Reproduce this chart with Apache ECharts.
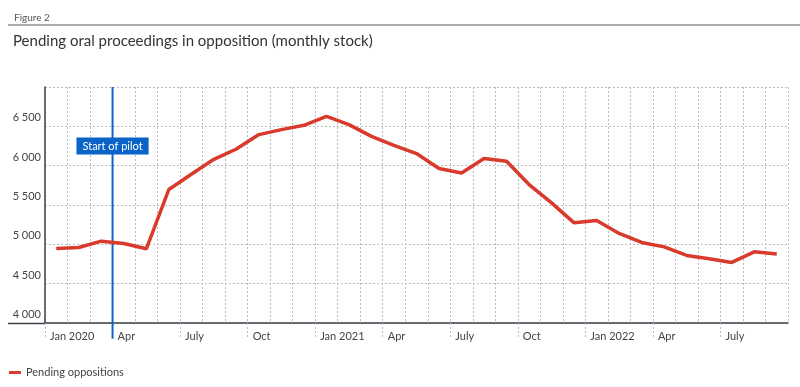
<!DOCTYPE html>
<html>
<head>
<meta charset="utf-8">
<script src="https://cdn.jsdelivr.net/npm/echarts@6/dist/echarts.min.js"></script>
<style>html,body{margin:0;padding:0;background:#fff}#c{width:800px;height:387px}</style>
</head>
<body>
<div id="c"></div>
<script>
// months Jan 2020 .. Sep 2022
const months = ['2020-01','2020-02','2020-03','2020-04','2020-05','2020-06','2020-07','2020-08','2020-09','2020-10','2020-11','2020-12',
  '2021-01','2021-02','2021-03','2021-04','2021-05','2021-06','2021-07','2021-08','2021-09','2021-10','2021-11','2021-12',
  '2022-01','2022-02','2022-03','2022-04','2022-05','2022-06','2022-07','2022-08','2022-09'];
const pending = [4948,4960,5040,5010,4943,5697,5890,6081,6212,6395,6458,6513,
  6627,6522,6373,6259,6154,5963,5907,6091,6056,5760,5527,5273,
  5303,5138,5024,4968,4859,4816,4770,4905,4876];
const tickLabels = ['Jan 2020','Apr','July','Oct','Jan 2021','Apr','July','Oct','Jan 2022','Apr','July'];
const pilotStart = 3; // boundary index before Apr 2020
const pilotLine = [7000, 3800];
const pilotLabel = 'Start of pilot';
const pilotLabelY = 6250;

const FONT = 'Lato, "Open Sans", sans-serif';
const chart = echarts.init(document.getElementById('c'), null, {renderer:'canvas'});
const fmt = v => String(v).replace(/\B(?=(\d{3})+(?!\d))/g, ' ');
chart.setOption({
  animation:false,
  textStyle:{fontFamily:FONT},
  title:[
    {text:'Figure 2', left:9, top:8, textStyle:{fontSize:10, fontWeight:'normal', color:'#555', fontFamily:FONT}},
    {text:'Pending oral proceedings in opposition (monthly stock)', left:8, top:29, textStyle:{fontSize:15, fontWeight:'normal', color:'#333', fontFamily:FONT}}
  ],
  graphic:[
    {type:'line', shape:{x1:8,y1:25,x2:800,y2:25}, style:{stroke:'#8a8f96', lineWidth:1.5}},
    {type:'line', shape:{x1:8,y1:323.5,x2:45,y2:323.5}, style:{stroke:'#3c4048', lineWidth:1.5}}
  ],
  legend:{data:['Pending oppositions'], left:4, top:362, icon:'rect', itemWidth:12, itemHeight:3,
    textStyle:{fontSize:11, color:'#444', fontFamily:FONT}},
  grid:{left:45, right:12, top:87, bottom:64},
  xAxis:[
    {type:'category', data:months, boundaryGap:true,
      axisLine:{show:true, lineStyle:{color:'#3c4048', width:1.5}},
      axisTick:{show:false}, axisLabel:{show:false},
      splitLine:{show:true, interval:0, lineStyle:{color:'#b8bcc2', type:[2,2], width:1}}},
    {type:'value', position:'bottom', min:0, max:months.length, interval:3,
      axisLine:{show:false}, splitLine:{show:false},
      axisTick:{show:true, length:16, lineStyle:{color:'#b8bcc2', type:[2,2], width:1}},
      axisLabel:{show:true, align:'left', margin:8, padding:[0,0,0,5], fontSize:11, color:'#444', fontFamily:FONT, showMaxLabel:false,
        formatter:v => tickLabels[v/3] || ''}}
  ],
  yAxis:{type:'value', min:4000, max:7000, interval:500,
    axisLine:{show:true, lineStyle:{color:'#3c4048', width:1.5}},
    axisTick:{show:false},
    axisLabel:{showMaxLabel:false, fontSize:11, color:'#444', fontFamily:FONT, margin:4, verticalAlign:'bottom', padding:[0,0,3,0],
      formatter:v => fmt(v)},
    splitLine:{show:true, lineStyle:{color:'#b8bcc2', type:[2,2], width:1}}},
  series:[
    {name:'Pending oppositions', type:'line', xAxisIndex:0, data:pending, symbol:'none',
      lineStyle:{color:'#d93a2b', width:3.5}, itemStyle:{color:'#d93a2b'}, z:5},
    {name:'pilot', type:'line', xAxisIndex:1, clip:false, z:4, symbol:'none', silent:true,
      data:pilotLine.map(y => [pilotStart, y]),
      lineStyle:{color:'#0a64c8', width:2},
      markPoint:{silent:true, symbolSize:0, symbol:'circle',
        label:{show:true, position:'inside', formatter:pilotLabel, color:'#fff', backgroundColor:'#0a64c8', padding:[3,6,3,6], fontSize:11, fontFamily:FONT},
        data:[{coord:[pilotStart, pilotLabelY]}]}}
  ]
});
</script>
</body>
</html>
